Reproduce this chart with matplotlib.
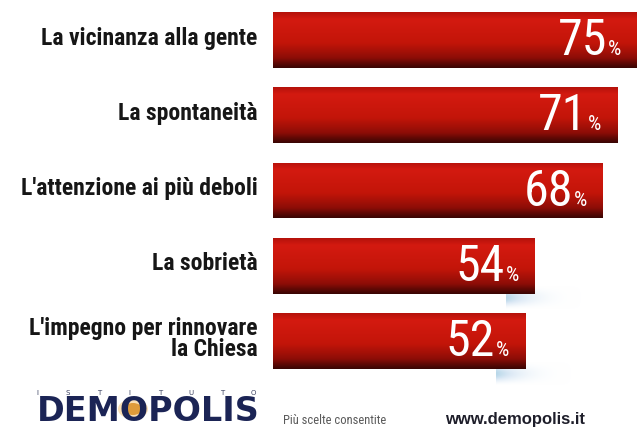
import matplotlib

matplotlib.use("Agg")
import matplotlib.pyplot as plt  # noqa: E402
import numpy as np  # noqa: E402
from matplotlib.colors import LinearSegmentedColormap  # noqa: E402
from matplotlib.patches import Circle  # noqa: E402

LABELS = [
    "La vicinanza alla gente",
    "La spontaneità",
    "L'attenzione ai più deboli",
    "La sobrietà",
    "L'impegno per rinnovare\nla Chiesa",
]
VALUES = [75, 71, 68, 54, 52]
# only the two shorter bars cast the soft grey trail
SHADOW = [False, False, False, True, True]

NARROW = ["Roboto Condensed", "DejaVu Sans"]
BAR_CMAP = LinearSegmentedColormap.from_list(
    "bar", [(0.0, "#b5120b"), (0.12, "#d41a10"), (0.55, "#c31509"),
            (0.82, "#8e0d07"), (1.0, "#3a0503")]
)

W, H = 641, 428
fig = plt.figure(figsize=(W / 100, H / 100), dpi=100, facecolor="white")
ax = fig.add_axes([0, 0, 1, 1])

# pixel mapping: value 0 sits at x=273, 4.85 px per percentage point
x0, ppx = 273, 4.85
ax.set_xlim(-x0 / ppx, (W - x0) / ppx)
top, pitch = 40, 75.3
ax.set_ylim((H - top) / pitch, -top / pitch)
ax.axis("off")

y = np.arange(len(VALUES))
bars = ax.barh(y, VALUES, height=0.74, color="#c01509", zorder=2)

grad = np.linspace(0, 1, 64).reshape(-1, 1)
# haze: fades out to the right and downwards
fade = np.outer(np.sin(np.linspace(0, np.pi, 24)), np.linspace(1, 0, 48) ** 1.5)
for bar, shadow in zip(bars, SHADOW):
    bx, by, bw, bh = bar.get_x(), bar.get_y(), bar.get_width(), bar.get_height()
    im = ax.imshow(grad, cmap=BAR_CMAP, aspect="auto", zorder=3,
                   extent=(bx, bx + bw, by + bh, by), interpolation="bilinear")
    im.set_clip_path(bar)
    if shadow:
        ax.imshow(fade * 0.35, cmap="Blues", vmin=0, vmax=1,
                  aspect="auto", zorder=1, alpha=fade * 0.8, interpolation="bilinear",
                  extent=(bx + bw - 6, bx + bw + 10, by + bh + 0.22, by + bh - 0.1))

for yi, (label, val) in enumerate(zip(LABELS, VALUES)):
    ax.annotate(label, (-3.2, yi), xytext=(0, 2), textcoords="offset pixels",
                ha="right", va="center", multialignment="right",
                fontsize=17, fontweight="bold", family=NARROW, color="#161616",
                linespacing=0.9, zorder=4)
    ax.annotate(f"{val}", (val, yi), xytext=(-30, -15), textcoords="offset pixels",
                ha="right", va="baseline", fontsize=36, family=NARROW,
                color="white", zorder=5)
    ax.annotate("%", (val, yi), xytext=(-29, -15), textcoords="offset pixels",
                ha="left", va="baseline", fontsize=15, family=NARROW,
                color="white", zorder=5)

# footer: institute logo, note and website
for lx, ch in zip(np.linspace(37, 253, 8), "ISTITUTO"):
    fig.text(lx / W, 1 - 393 / H, ch, fontsize=5, color="#3a4060",
             ha="center", va="center", family="DejaVu Sans")
fig.add_artist(Circle((133 / W, 1 - 409 / H), 15 / W, transform=fig.transFigure,
                      color="#f2a428", alpha=0.35, lw=0, zorder=0))
fig.add_artist(Circle((133 / W, 1 - 409 / H), 9 / W, transform=fig.transFigure,
                      color="#d98a1c", alpha=0.8, lw=0, zorder=0))
fig.text(37 / W, 1 - 421 / H, "DEMOPOLIS", fontsize=24, fontweight="bold",
         family="DejaVu Sans", color="#1b2455", ha="left", va="baseline", zorder=2)
fig.text(283 / W, 1 - 424 / H, "Più scelte consentite", fontsize=9,
         family=NARROW, color="#5a5a5a", ha="left", va="baseline")
fig.text(445 / W, 1 - 424 / H, "www.demopolis.it", fontsize=12, fontweight="bold",
         family="Liberation Sans", color="#1e1e2a", ha="left", va="baseline")

fig.savefig("out.png", dpi=100, facecolor="white")
